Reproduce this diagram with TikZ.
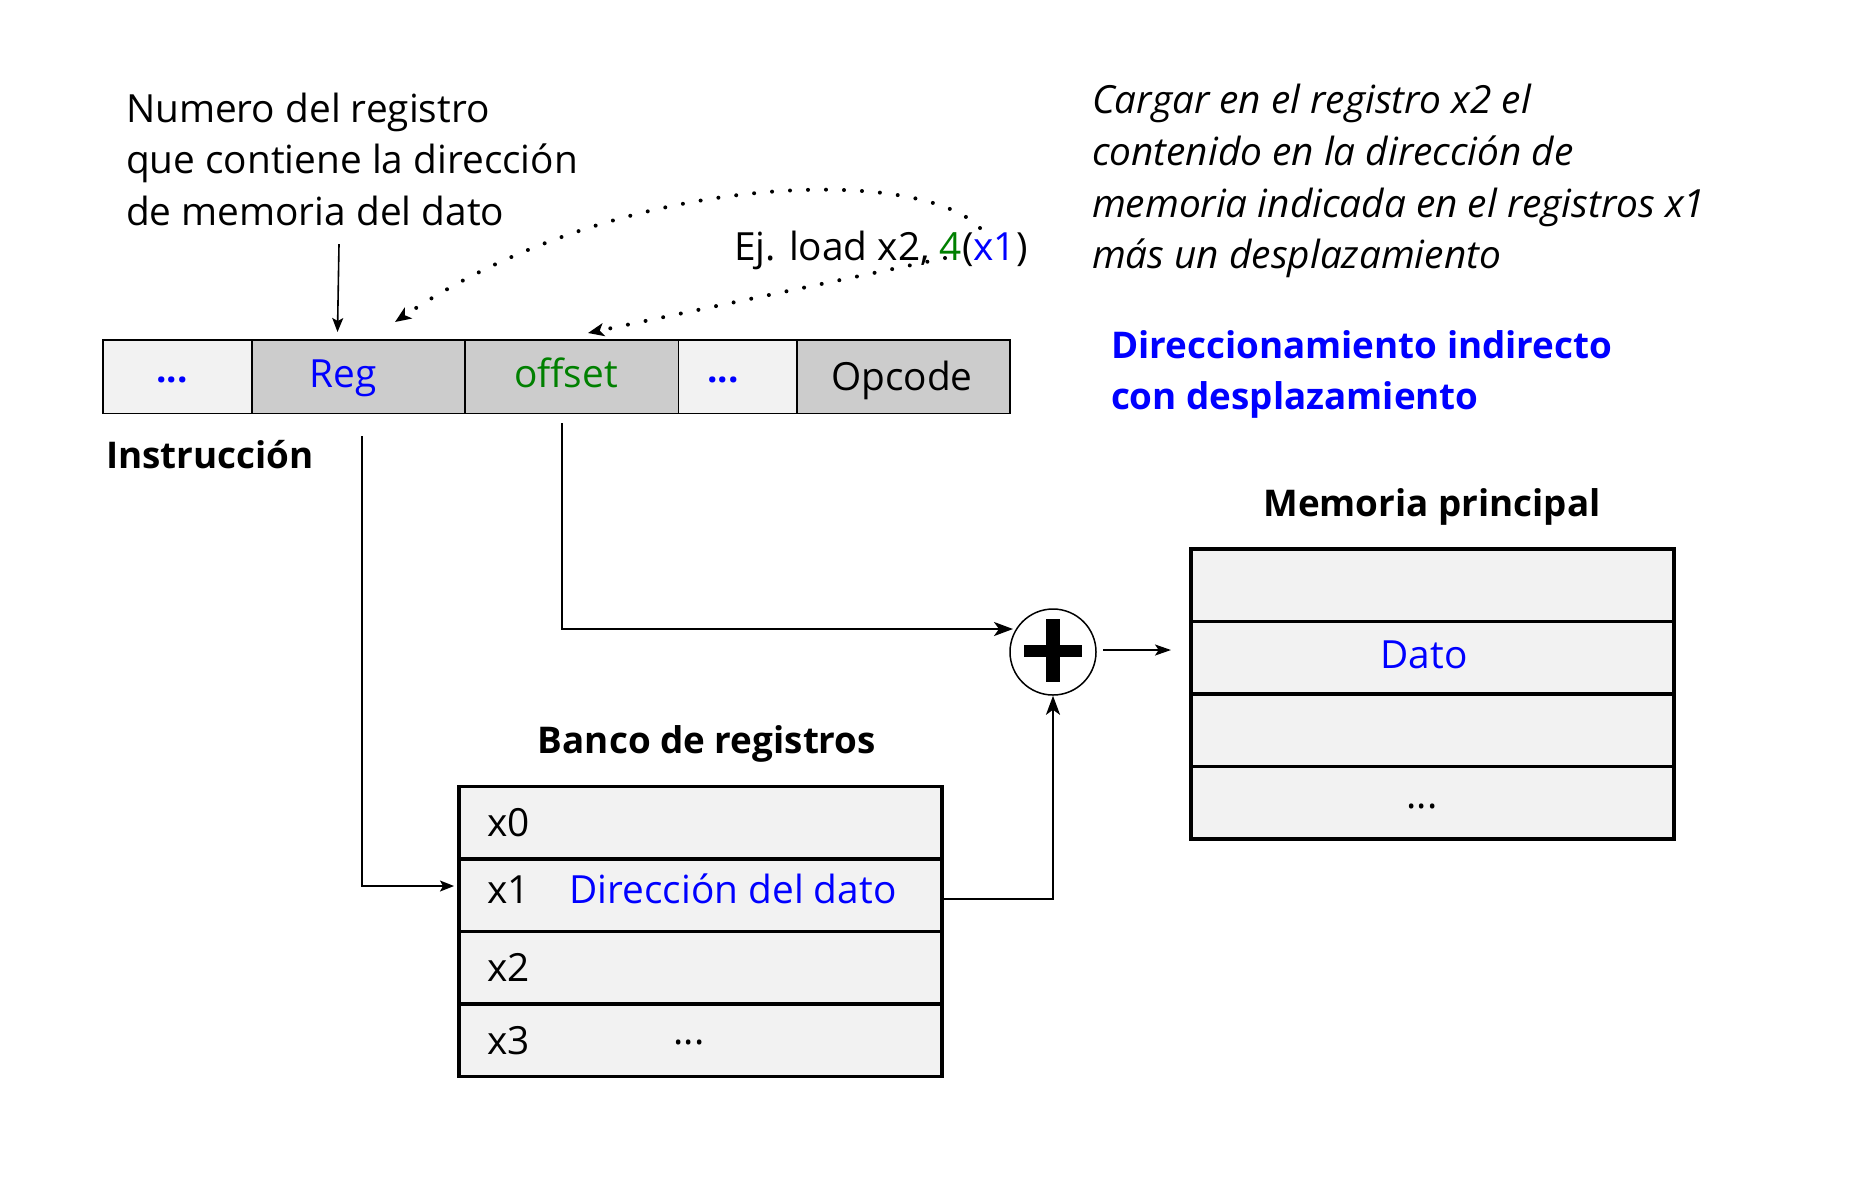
\documentclass[tikz,border=0pt]{standalone}
\usepackage{fontspec}
\setmainfont{Open Sans}
\usetikzlibrary{arrows.meta,calc}
\definecolor{lgray}{HTML}{F2F2F2}
\definecolor{dgray}{HTML}{CCCCCC}
\definecolor{myblue}{HTML}{0000FF}
\definecolor{mygreen}{HTML}{008000}
\begin{document}
\begin{tikzpicture}[x=0.5pt,y=-0.5pt,
  txt/.style={inner sep=0pt, outer sep=0pt, font=\fontsize{19.4}{26}\selectfont},
  btxt/.style={txt, font=\fontsize{18.4}{26}\selectfont\bfseries},
  itxt/.style={txt, font=\fontsize{19.4}{26}\selectfont\itshape},
  bar/.style={draw=black, line width=0.8pt, inner sep=0pt, outer sep=0pt, minimum height=36.75pt, anchor=north west},
  row/.style={draw=black, line width=1.6pt, fill=lgray, inner sep=0pt, outer sep=0pt, minimum width=241.5pt, minimum height=36.25pt, anchor=north west},
  thinarrow/.style={line width=0.8pt, -{Stealth[length=7pt,width=5.5pt,inset=1.5pt]}},
  thickarrow/.style={line width=1.2pt, -{Stealth[length=9.5pt,width=7pt,inset=2.5pt]}},
  dotarrow/.style={line width=2pt, line cap=round, dash pattern=on 0pt off 9pt, -{Stealth[length=8pt,width=6.5pt,inset=2pt]}},
]
\fill[white] (0,0) rectangle (1851,1191);
\useasboundingbox (0,0) rectangle (1851,1191);

% top-left explanation
\node[txt, anchor=base west] (n1) at (126,122) {Numero del registro};
\node[txt, anchor=base west] (n2) at (126,173.3) {que contiene la dirección};
\node[txt, anchor=base west] (n3) at (126,225.7) {de memoria del dato};

% right explanation
\node[itxt, anchor=base west] (e1) at (1092,113) {Cargar en el registro x2 el};
\node[itxt, anchor=base west] (e2) at (1092,165) {contenido en la dirección de};
\node[itxt, anchor=base west] (e3) at (1092,217) {memoria indicada en el registros x1};
\node[itxt, anchor=base west] (e4) at (1092,268) {más un desplazamiento};

\node[btxt, text=myblue, anchor=base west] (m1t) at (1111,358) {Direccionamiento indirecto};
\node[btxt, text=myblue, anchor=base west] (m2t) at (1111,409) {con desplazamiento};

% example label
\node[txt, anchor=base west] (ej) at (734,260) {Ej. load x2, {\color{mygreen}4}({\color{myblue}x1})};

% instruction bar
\node[bar, fill=lgray, minimum width=74.5pt] (c1) at (103,340) {};
\node[bar, fill=dgray, minimum width=106.5pt] (reg) at (252,340) {};
\node[bar, fill=dgray, minimum width=106.75pt] (off) at (465,340) {};
\node[bar, fill=lgray, minimum width=59.25pt] (c4) at (678.5,340) {};
\node[bar, fill=dgray, minimum width=106.5pt] (opc) at (797,340) {};

\node[btxt, text=myblue, anchor=base] (t1) at (172,382) {...};
\node[txt, text=myblue, anchor=base] (treg) at (343,387) {Reg};
\node[txt, text=mygreen, anchor=base] (toff) at (566,387) {offset};
\node[btxt, text=myblue, anchor=base] (t4) at (723,382) {...};
\node[txt, anchor=base] (topc) at (902,390) {Opcode};

\node[btxt, anchor=base west] (instr) at (106,468) {Instrucción};

% arrows into bar
\coordinate (a1s) at (339,244);
\coordinate (a1e) at (337.5,332);
\draw[thinarrow] (a1s) -- (a1e);

\coordinate (d1s) at (980,228);
\coordinate (d1e) at (395,322);
\draw[dotarrow] (d1s) .. controls (920,165) and (620,170) .. (d1e);
\coordinate (d2s) at (945,258);
\coordinate (d2e) at (588,333);
\draw[dotarrow] (d2s) -- (d2e);

% register bank
\node[btxt, anchor=base] (bt) at (707,753) {Banco de registros};
\node[row] (r0) at (459,786.5) {};
\node[row] (r1) at (459,859) {};
\node[row] (r2) at (459,931.5) {};
\node[row] (r3) at (459,1004) {};
\node[txt, anchor=base west] (x0) at (487,836) {x0};
\node[txt, anchor=base west] (x1) at (487,903) {x1};
\node[txt, anchor=base west] (x2) at (487,981) {x2};
\node[txt, anchor=base west] (x3) at (487,1054) {x3};
\node[txt, text=myblue, anchor=base west] (dd) at (569.5,903) {Dirección del dato};
\node[txt, anchor=base] (x3d) at (689,1044) {...};

% main memory
\node[btxt, anchor=base] (mt) at (1432,516) {Memoria principal};
\node[row] (m1) at (1191,549) {};
\node[row] (m2) at (1191,621.5) {};
\node[row] (m3) at (1191,694) {};
\node[row] (m4) at (1191,766.5) {};
\node[txt, text=myblue, anchor=base] (dato) at (1424,668) {Dato};
\node[txt, anchor=base] (m4d) at (1422,808) {...};

% adder
\node[circle, draw, line width=0.75pt, minimum size=43pt, inner sep=0pt] (plus) at (1053,652) {};
\fill (1024,645) rectangle (1082,657);
\fill (1046,619) rectangle (1060,682);

% connectors
\coordinate (rs) at (362,436);
\coordinate (x1in) at (454,886);
\draw[thinarrow] (rs) |- (x1in);

\coordinate (os) at (562,423);
\coordinate (pin) at (1013,629);
\draw[thickarrow] (os) |- (pin);

\coordinate (x1out) at (944,899);
\draw[thickarrow] (x1out) -| (plus.south);

\coordinate (ps) at (1103,650);
\coordinate (pe) at (1171,650);
\draw[line width=0.9pt, -{Stealth[length=8pt,width=5.5pt,inset=1.8pt]}] (ps) -- (pe);
\end{tikzpicture}
\end{document}
